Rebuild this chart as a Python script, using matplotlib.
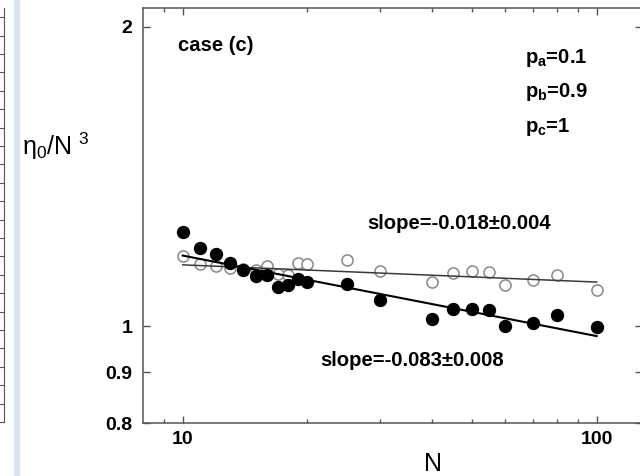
import numpy as np
import matplotlib
matplotlib.use('Agg')
import matplotlib.pyplot as plt
from matplotlib.patches import Rectangle
from matplotlib.ticker import FixedLocator, NullFormatter, NullLocator

plt.rcParams['font.family'] = ['Liberation Sans', 'DejaVu Sans']
plt.rcParams['mathtext.fontset'] = 'custom'
plt.rcParams['mathtext.rm'] = 'Liberation Sans'
plt.rcParams['mathtext.it'] = 'Liberation Sans:italic'
plt.rcParams['mathtext.bf'] = 'Liberation Sans:bold'

# filled circles
N_closed = [10, 11, 12, 13, 14, 15, 16, 17, 18, 19, 20, 25, 30, 40, 45, 50, 55, 60, 70, 80, 100]
eta_closed = [1.243, 1.199, 1.182, 1.157, 1.139, 1.124, 1.127, 1.095, 1.101, 1.116, 1.109,
              1.102, 1.064, 1.018, 1.040, 1.041, 1.038, 1.002, 1.008, 1.026, 0.998]

# open circles
N_open = [10, 11, 12, 13, 14, 15, 16, 17, 18, 19, 20, 25, 30, 40, 45, 50, 55, 60, 70, 80, 100]
eta_open = [1.178, 1.155, 1.151, 1.145, 1.143, 1.140, 1.151, 1.129, 1.127, 1.157, 1.155,
            1.166, 1.136, 1.108, 1.132, 1.138, 1.135, 1.101, 1.114, 1.127, 1.088]

# fitted lines (end points)
N_fit = [10, 100]
fit_closed = [1.178, 0.978]
fit_open = [1.153, 1.108]

slope_closed = 'slope=-0.083\u00b10.008'
slope_open = 'slope=-0.018\u00b10.004'

fig = plt.figure(figsize=(6.4, 4.76), dpi=100)
W, H = 640, 476

# fragment of the neighbouring panel on the left
fig.patches.append(Rectangle((14 / W, 0), 5 / W, 1, transform=fig.transFigure,
                             color='#d8e6f4', zorder=0))
ax0 = fig.add_axes([-0.5, 1 - 422 / H, 0.5 + 4 / W, (422 - 8) / H])
ax0.set_ylim(0, 22.5)
for s in ['left', 'top']:
    ax0.spines[s].set_visible(False)
for s in ['right', 'bottom']:
    ax0.spines[s].set_color('#555555')
ax0.set_xticks([])
ax0.yaxis.tick_right()
ax0.set_yticks(np.arange(1, 23))
ax0.tick_params(axis='y', direction='in', length=4, color='#555555', labelright=False)

# main panel
left, right = 143.3, 642
bottom, top = 423, 7.5
ax = fig.add_axes([left / W, 1 - bottom / H, (right - left) / W, (bottom - top) / H])
ax.set_xscale('log')
ax.set_yscale('log')
ax.set_xlim(8.03, 128.7)
ax.set_ylim(0.8, 2.09)

ax.plot(N_open, eta_open, 'o', ms=8, mfc='white', mec='#888888', mew=1.1, zorder=2)
ax.plot(N_fit, fit_open, '-', color='#3a3a3a', lw=1.1, zorder=3)
ax.plot(N_closed, eta_closed, 'o', ms=8.6, color='black', zorder=4)
ax.plot(N_fit, fit_closed, '-', color='black', lw=1.5, zorder=5)

ax.xaxis.set_major_locator(FixedLocator([10, 100]))
ax.xaxis.set_minor_locator(FixedLocator([9, 20, 30, 40, 50, 60, 70, 80, 90]))
ax.xaxis.set_minor_formatter(NullFormatter())
ax.set_xticklabels(['10', '100'], fontsize=14, fontweight='bold')
ax.yaxis.set_major_locator(FixedLocator([0.8, 0.9, 1, 2]))
ax.yaxis.set_minor_locator(NullLocator())
ax.set_yticklabels(['0.8', '0.9', '1', '2'], fontsize=14, fontweight='bold')

ax.tick_params(which='both', direction='in', top=True, right=True, color='#555555')
ax.tick_params(which='major', length=5, width=1)
ax.tick_params(which='minor', length=3, width=1)
ax.tick_params(axis='x', which='major', pad=6)
ax.tick_params(axis='y', which='major', pad=8)
for s in ax.spines.values():
    s.set_color('#555555')
    s.set_linewidth(1.1)

fs = 14.6
ax.text(0.0696, 0.9097, 'case (c)', transform=ax.transAxes, fontsize=fs,
        fontweight='bold', va='center', ha='left')
ax.text(0.765, 0.878, r'$\mathbf{p_a}$' + '=0.1', transform=ax.transAxes,
        fontsize=fs, fontweight='bold', va='center', ha='left')
ax.text(0.765, 0.797, r'$\mathbf{p_b}$' + '=0.9', transform=ax.transAxes,
        fontsize=fs, fontweight='bold', va='center', ha='left')
ax.text(0.765, 0.712, r'$\mathbf{p_c}$' + '=1', transform=ax.transAxes,
        fontsize=fs, fontweight='bold', va='center', ha='left')
ax.text(0.4486, 0.479, slope_open, transform=ax.transAxes, fontsize=fs,
        fontweight='bold', va='center', ha='left')
ax.text(0.3544, 0.1516, slope_closed, transform=ax.transAxes, fontsize=fs,
        fontweight='bold', va='center', ha='left')

fig.text(432.5 / W, 1 - 464 / H, 'N', fontsize=18, ha='center', va='center')
fig.text(22 / W, 1 - 146 / H, r'η$_0$/N $^3$', fontsize=18, ha='left', va='center')

fig.savefig('out.png', dpi=100)
